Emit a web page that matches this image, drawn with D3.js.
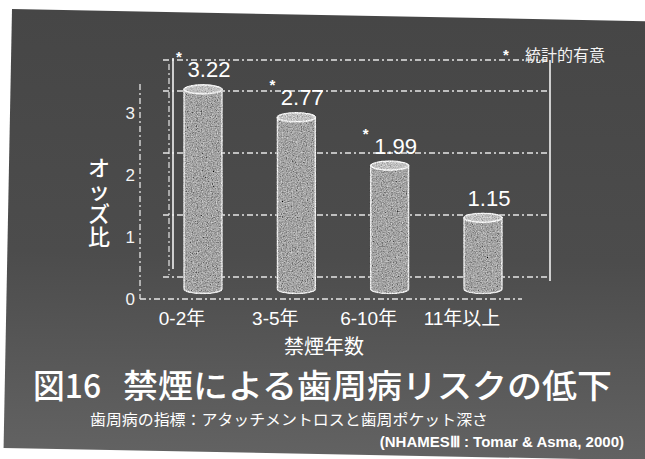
<!DOCTYPE html>
<html>
<head>
<meta charset="utf-8">
<script src="https://cdn.jsdelivr.net/npm/d3@7"></script>
<style>
  html, body { margin: 0; padding: 0; background: #ffffff; }
  svg { display: block; }
  .vtitle { writing-mode: vertical-rl; font-feature-settings: "vert" 0, "vrt2" 0; }
</style>
</head>
<body>
<div id="chart"></div>
<script>
// ---- data ----
const categories   = ["0-2年", "3-5年", "6-10年", "11年以上"];
const oddsRatios   = [3.22, 2.77, 1.99, 1.15];
const significant  = [true, true, true, false];
const yTickValues  = [0, 1, 2, 3];
const yMax         = 3.5;

const yAxisTitle   = "オッズ比";
const xAxisTitle   = "禁煙年数";
const figureNo     = "図16";
const figureTitle  = "禁煙による歯周病リスクの低下";
const subTitle     = "歯周病の指標：アタッチメントロスと歯周ポケット深さ";
const sourceNote   = "(NHAMESⅢ : Tomar & Asma, 2000)";
const legendText   = "統計的有意";

// ---- canvas ----
const W = 645, H = 459;
const svg = d3.select("#chart").append("svg")
  .attr("width", W).attr("height", H)
  .attr("viewBox", `0 0 ${W} ${H}`);

const defs = svg.append("defs");

const bg = defs.append("linearGradient").attr("id", "slideBg")
  .attr("x1", 0).attr("y1", 0).attr("x2", 0).attr("y2", 1);
bg.append("stop").attr("offset", "0%").attr("stop-color", "#464646");
bg.append("stop").attr("offset", "55%").attr("stop-color", "#4c4c4c");
bg.append("stop").attr("offset", "100%").attr("stop-color", "#626262");

// speckled stone texture for the cylinders
const grain = defs.append("filter").attr("id", "stone")
  .attr("x", "-10%").attr("y", "-10%").attr("width", "120%").attr("height", "120%");
grain.append("feTurbulence").attr("type", "fractalNoise")
  .attr("baseFrequency", 0.8).attr("numOctaves", 2).attr("seed", 7).attr("result", "noise");
grain.append("feColorMatrix").attr("in", "noise").attr("type", "matrix")
  .attr("values", "0.33 0.33 0.33 0 0  0.33 0.33 0.33 0 0  0.33 0.33 0.33 0 0  0 0 0 0 1")
  .attr("result", "grayNoise");
grain.append("feComposite").attr("in", "SourceGraphic").attr("in2", "grayNoise")
  .attr("operator", "arithmetic").attr("k1", 0).attr("k2", 1).attr("k3", 1.4).attr("k4", -0.7)
  .attr("result", "mix");
grain.append("feComposite").attr("in", "mix").attr("in2", "SourceGraphic").attr("operator", "in");

// slide background (slightly tilted)
svg.append("rect")
  .attr("x", 12).attr("y", 9).attr("width", 700).attr("height", 439)
  .attr("fill", "url(#slideBg)")
  .attr("transform", "rotate(1.1, 12, 9)");

const g = svg.append("g");

// ---- scales ----
// three depth planes of the 3-D plot: front axis, bar centres, back wall
const yFront = d3.scaleLinear().domain([0, yMax]).range([299, 299 - yMax * 62]);
const yBar   = d3.scaleLinear().domain([0, yMax]).range([289, 289 - yMax * 62]);
const yBack  = d3.scaleLinear().domain([0, yMax]).range([277, 277 - yMax * 62]);

const x = d3.scalePoint().domain(categories).range([203, 483]);
const frontShift = -21;           // category labels sit on the front plane
const axisX = 140;                // front value axis position
const barW = 38, rx = barW / 2, ry = 4.5;

const dash = "6,3,2,3";
const lineCol = "#e6e6e6";

// back wall gridlines
g.append("g").selectAll("line")
  .data(yTickValues.concat([yMax]))
  .join("line")
  .attr("x1", 163).attr("x2", 550)
  .attr("y1", d => yBack(d)).attr("y2", d => yBack(d))
  .attr("stroke", lineCol).attr("stroke-width", 1.3)
  .attr("stroke-dasharray", dash);

// back wall edges
g.append("line").attr("x1", 173).attr("x2", 173)
  .attr("y1", yBack(yMax) - 2).attr("y2", yBack(0) - 8)
  .attr("stroke", "#f2f2f2").attr("stroke-width", 1.6);
g.append("line").attr("x1", 169).attr("x2", 169)
  .attr("y1", yBack(yMax) + 4).attr("y2", yBack(0) - 2)
  .attr("stroke", lineCol).attr("stroke-width", 1.2).attr("stroke-dasharray", dash);
g.append("line").attr("x1", 550).attr("x2", 550)
  .attr("y1", yBack(yMax)).attr("y2", yBack(0) + 4)
  .attr("stroke", "#f2f2f2").attr("stroke-width", 1.6);

// floor front edge
g.append("line").attr("x1", axisX).attr("x2", 522)
  .attr("y1", yFront(0)).attr("y2", yFront(0))
  .attr("stroke", lineCol).attr("stroke-width", 1.3).attr("stroke-dasharray", dash);

// front value axis
const axisG = g.append("g").attr("transform", `translate(${axisX},0)`);
axisG.append("line")
  .attr("y1", yFront(yMax) + 2).attr("y2", yFront(0))
  .attr("stroke", lineCol).attr("stroke-width", 1.3).attr("stroke-dasharray", dash);
axisG.selectAll("text.tick")
  .data(yTickValues)
  .join("text")
  .attr("class", "tick")
  .attr("x", -5).attr("y", d => yFront(d))
  .attr("dy", "0.36em")
  .attr("text-anchor", "end")
  .attr("font-family", "'Liberation Sans', Arial, sans-serif")
  .attr("font-size", 17)
  .attr("fill", "#f4f4f4")
  .text(d3.format("d"));

// cylinders
const bars = g.append("g").selectAll("g.bar")
  .data(oddsRatios.map((v, i) => ({ cat: categories[i], v, sig: significant[i] })))
  .join("g").attr("class", "bar");

const cylGroup = bars.append("g").attr("filter", "url(#stone)");
cylGroup.append("path")
  .attr("d", d => {
    const x0 = x(d.cat) - barW / 2, yt = yBar(d.v), yb = yBar(0);
    return `M${x0},${yt} V${yb} A${rx},${ry} 0 0 0 ${x0 + barW},${yb} V${yt} Z`;
  })
  .attr("fill", "#a4a4a4")
  .attr("stroke", "#e8e8e8").attr("stroke-width", 1.6);
cylGroup.append("ellipse")
  .attr("cx", d => x(d.cat)).attr("cy", d => yBar(d.v))
  .attr("rx", rx).attr("ry", ry)
  .attr("fill", "#c0c0c0")
  .attr("stroke", "#f0f0f0").attr("stroke-width", 1.6);

// value labels (tall, condensed figures)
const labelY = d => yBar(d.v) - 12;
bars.append("text")
  .attr("x", d => x(d.cat) + 6)
  .attr("y", labelY)
  .attr("text-anchor", "middle")
  .attr("font-family", "'Liberation Sans', Arial, sans-serif")
  .attr("font-size", 22)
  .attr("textLength", 43).attr("lengthAdjust", "spacingAndGlyphs")
  .attr("fill", "#ffffff")
  .text(d => d3.format(".2f")(d.v));

// significance marks
bars.filter(d => d.sig).append("text")
  .attr("x", d => x(d.cat) + 6 - 30)
  .attr("y", d => labelY(d) - 15)
  .attr("text-anchor", "middle")
  .attr("font-family", "'Liberation Sans', Arial, sans-serif")
  .attr("font-weight", "bold")
  .attr("font-size", 15)
  .attr("fill", "#ffffff")
  .text("*");

// legend
g.append("text").attr("x", 506).attr("y", 60)
  .attr("text-anchor", "middle")
  .attr("font-family", "'Liberation Sans', Arial, sans-serif")
  .attr("font-weight", "bold").attr("font-size", 15)
  .attr("fill", "#ffffff").text("*");
g.append("text").attr("x", 525).attr("y", 61)
  .attr("font-family", "'Noto Sans CJK JP', sans-serif")
  .attr("font-size", 16).attr("fill", "#f2f2f2")
  .text(legendText);

// category labels
const labelFont = "'Liberation Sans', 'Noto Sans CJK JP', sans-serif";
g.append("g").selectAll("text")
  .data(categories)
  .join("text")
  .attr("x", d => x(d) + frontShift)
  .attr("y", 325)
  .attr("text-anchor", "middle")
  .attr("font-family", labelFont)
  .attr("font-size", 19)
  .attr("fill", "#ffffff")
  .text(d => d);

// axis titles
g.append("text").attr("x", 324).attr("y", 354)
  .attr("text-anchor", "middle")
  .attr("font-family", "'Noto Sans CJK JP', sans-serif")
  .attr("font-size", 20).attr("fill", "#ffffff")
  .text(xAxisTitle);

// vertical y-axis title
g.append("text")
  .attr("class", "vtitle")
  .attr("x", 99).attr("y", 157)
  .attr("font-family", "'Noto Sans CJK JP', sans-serif")
  .attr("font-weight", 500)
  .attr("font-size", 22).attr("letter-spacing", 1)
  .attr("fill", "#ffffff")
  .text(yAxisTitle);

// figure title block
g.append("text").attr("x", 33).attr("y", 398)
  .attr("font-family", "'Noto Sans CJK JP', sans-serif")
  .attr("font-weight", 500)
  .attr("font-size", 33).attr("fill", "#ffffff")
  .attr("textLength", 68).attr("lengthAdjust", "spacingAndGlyphs")
  .text(figureNo);
g.append("text").attr("x", 123).attr("y", 398)
  .attr("font-family", "'Noto Sans CJK JP', sans-serif")
  .attr("font-weight", 500)
  .attr("font-size", 33).attr("fill", "#ffffff")
  .attr("textLength", 489).attr("lengthAdjust", "spacingAndGlyphs")
  .text(figureTitle);

g.append("text").attr("x", 90).attr("y", 425)
  .attr("font-family", "'Noto Sans CJK JP', sans-serif")
  .attr("font-size", 15).attr("fill", "#ffffff")
  .attr("textLength", 398).attr("lengthAdjust", "spacingAndGlyphs")
  .text(subTitle);

g.append("text").attr("x", 624).attr("y", 447)
  .attr("text-anchor", "end")
  .attr("font-family", "'Liberation Sans', Arial, sans-serif")
  .attr("font-weight", "bold")
  .attr("font-size", 15).attr("fill", "#ffffff")
  .text(sourceNote);
</script>
</body>
</html>
